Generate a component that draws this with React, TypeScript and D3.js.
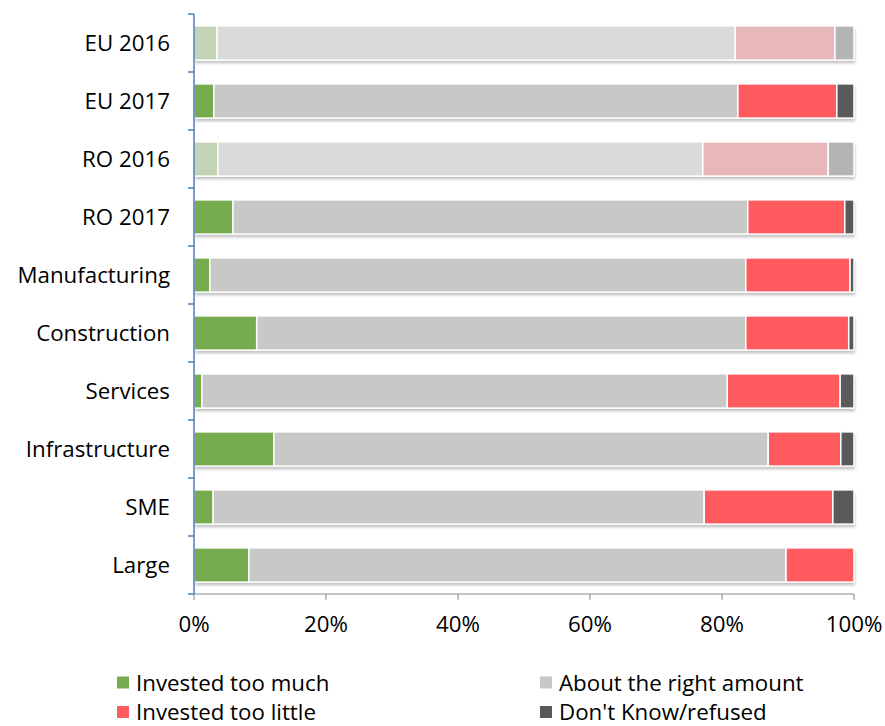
import React from 'react';
import * as d3 from 'd3';

const categories = ['EU 2016', 'EU 2017', 'RO 2016', 'RO 2017', 'Manufacturing', 'Construction', 'Services', 'Infrastructure', 'SME', 'Large'];
const seriesNames = ['Invested too much', 'About the right amount', 'Invested too little', "Don't Know/refused"];
const tooMuch = [3.5, 3.0, 3.6, 5.9, 2.4, 9.5, 1.2, 12.1, 2.9, 8.3];
const rightAmount = [78.5, 79.4, 73.5, 78.0, 81.2, 74.1, 79.6, 74.9, 74.4, 81.4];
const tooLittle = [15.1, 15.0, 19.0, 14.7, 15.8, 15.6, 17.1, 11.0, 19.5, 10.3];
const dontKnow = [2.9, 2.6, 3.9, 1.4, 0.6, 0.8, 2.1, 2.0, 3.2, 0];
const faded = ['EU 2016', 'RO 2016'];
const xTicks = [0, 20, 40, 60, 80, 100];

const colors = ['#76ab4f', '#c8c8c6', '#ff5a5e', '#5a5a5c'];
const fadedColors = ['#c3d3b5', '#dadada', '#e8b7b9', '#b4b4b4'];

const W = 885;
const H = 726;
const margin = { top: 14, right: 31, bottom: 132, left: 194 };

export default function App() {
  const width = W - margin.left - margin.right;
  const height = H - margin.top - margin.bottom;

  const rows = categories.map((c, i) => ({ cat: c, vals: [tooMuch[i], rightAmount[i], tooLittle[i], dontKnow[i]] }));
  const stack = d3.stack<any>().keys(['0', '1', '2', '3']).value((d, k) => d.vals[+k]);
  const stacked = stack(rows);

  const x = d3.scaleLinear().domain([0, 100]).range([0, width]);
  const y = d3.scaleBand().domain(categories).range([0, height]).paddingInner(0.41).paddingOuter(0.205);

  const font = "'Open Sans', 'Liberation Sans', sans-serif";
  const fs = 22.3;

  return (
    <svg width={W} height={H} style={{ position: 'absolute', left: 0, top: 0, fontFamily: font }}>
      <defs>
        <filter id="shadow" x="-5%" y="-30%" width="110%" height="170%">
          <feDropShadow dx="1" dy="3" stdDeviation="1.5" floodColor="#000" floodOpacity="0.25" />
        </filter>
      </defs>
      <g transform={`translate(${margin.left},${margin.top})`}>
        {categories.map((c) => (
          <rect key={'s' + c} x={0} y={y(c)} width={x(100)} height={y.bandwidth()} fill="#fff" filter="url(#shadow)" />
        ))}
        {stacked.map((s, si) =>
          s.map((d, i) => {
            const cat = categories[i];
            const w = x(d[1]) - x(d[0]);
            if (w <= 0) return null;
            const isFaded = faded.includes(cat);
            return (
              <rect
                key={si + '-' + i}
                x={x(d[0])}
                y={y(cat)}
                width={w}
                height={y.bandwidth()}
                fill={isFaded ? fadedColors[si] : colors[si]}
                stroke="#fff"
                strokeWidth={1.5}
              />
            );
          })
        )}
        {/* y axis */}
        <line x1={0} x2={0} y1={0} y2={height} stroke="#4a7ebb" strokeWidth={1.5} />
        {d3.range(categories.length + 1).map((i) => {
          const yy = (height / categories.length) * i;
          return <line key={'yt' + i} x1={-6} x2={0} y1={yy} y2={yy} stroke="#4a7ebb" strokeWidth={1.5} />;
        })}
        {categories.map((c) => (
          <text key={'yl' + c} x={-24} y={y(c)! + y.bandwidth() / 2 + 8} textAnchor="end" fontSize={fs} fill="#000">
            {c}
          </text>
        ))}
        {/* x axis */}
        <line x1={0} x2={width} y1={height} y2={height} stroke="#888" strokeWidth={1} />
        {xTicks.map((t) => (
          <g key={'xt' + t} transform={`translate(${x(t)},${height})`}>
            <line y1={0} y2={6} stroke="#888" />
            <text y={38} textAnchor="middle" fontSize={fs} fill="#000">
              {t}%
            </text>
          </g>
        ))}
      </g>
      {/* legend */}
      {seriesNames.map((n, i) => {
        const lx = i % 2 === 0 ? 117 : 540;
        const ly = i < 2 ? 682.5 : 712;
        return (
          <g key={'lg' + i} transform={`translate(${lx},${ly})`}>
            <rect x={0} y={-6} width={12} height={12} fill={colors[i]} />
            <text x={19} y={8} fontSize={fs} fill="#000">
              {n}
            </text>
          </g>
        );
      })}
    </svg>
  );
}
